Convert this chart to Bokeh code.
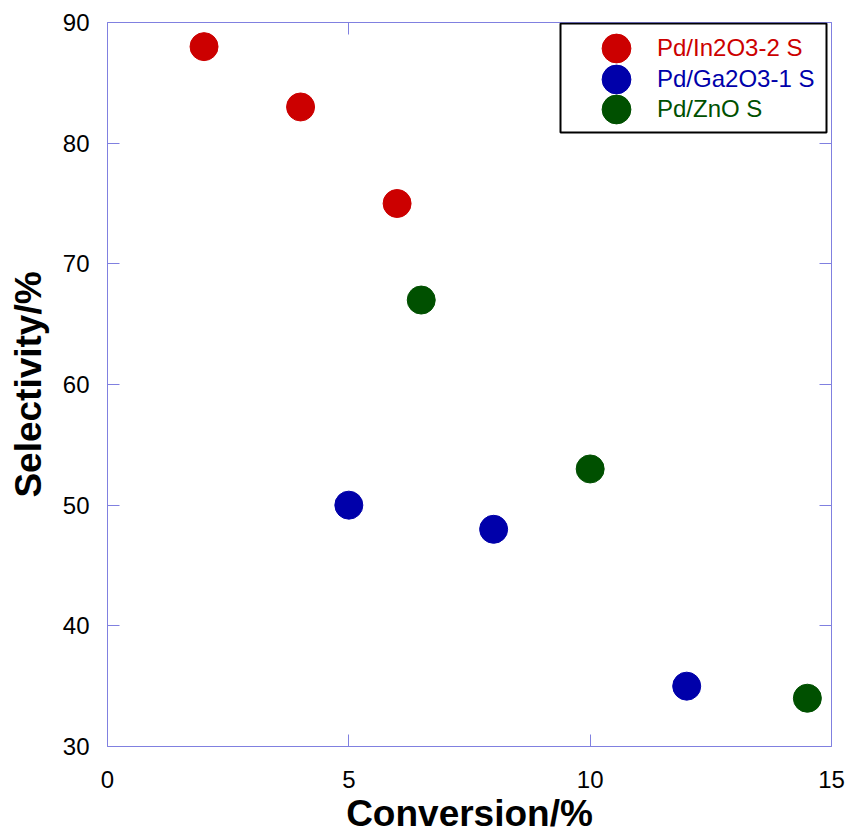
from bokeh.plotting import figure
from bokeh.models import (LinearAxis, FixedTicker, Legend, LegendItem, BoxAnnotation, Range1d)
from bokeh.embed import file_html
from bokeh.resources import INLINE

# Data
in2o3_conv = [2, 4, 6]
in2o3_sel = [88, 83, 75]
ga2o3_conv = [5, 8, 12]
ga2o3_sel = [50, 48, 35]
zno_conv = [6.5, 10, 14.5]
zno_sel = [67, 53, 34]
series_names = ["Pd/In2O3-2 S", "Pd/Ga2O3-1 S", "Pd/ZnO S"]
series_colors = ["#CC0000", "#0000AA", "#005000"]
x_ticks = [0, 5, 10, 15]
y_ticks = [30, 40, 50, 60, 70, 80, 90]
x_title = "Conversion/%"
y_title = "Selectivity/%"

FONT = "Liberation Sans"
AXC = "#8080E0"

p = figure(width=848, height=836, output_backend="svg", toolbar_location=None,
           x_range=Range1d(0, 15), y_range=Range1d(30, 90),
           min_border_left=107, min_border_right=17, min_border_top=22, min_border_bottom=90,
           x_axis_label=x_title, y_axis_label=y_title)
p.grid.visible = False
p.outline_line_color = None
p.background_fill_color = "white"
p.border_fill_color = "white"

bottom_ax = p.below[0]
left_ax = p.left[0]
right_ax = LinearAxis()
top_ax = LinearAxis()
p.add_layout(right_ax, "right")
p.add_layout(top_ax, "above")

for ax in (bottom_ax, top_ax):
    ax.ticker = FixedTicker(ticks=x_ticks)
for ax in (left_ax, right_ax):
    ax.ticker = FixedTicker(ticks=y_ticks)

for ax in (bottom_ax, top_ax, left_ax, right_ax):
    ax.axis_line_color = AXC
    ax.axis_line_width = 1
    ax.major_tick_line_color = AXC
    ax.major_tick_in = 12
    ax.major_tick_out = 0
    ax.minor_tick_line_color = None
    ax.major_label_text_font = FONT
    ax.major_label_text_font_size = "24px"
    ax.major_label_text_color = "black"
    ax.axis_label_text_font = FONT
    ax.axis_label_text_font_size = "37px"
    ax.axis_label_text_font_style = "bold"
    ax.axis_label_text_color = "black"

# mirrored axes: ticks only
for ax in (right_ax, top_ax):
    ax.major_label_text_font_size = "1px"
    ax.major_label_text_color = None
    ax.major_label_standoff = 0
    ax.axis_label = None

bottom_ax.major_label_standoff = 24
bottom_ax.axis_label_standoff = 2
left_ax.major_label_standoff = 18
left_ax.axis_label_standoff = 11

renderers = []
for xs, ys, c in [(in2o3_conv, in2o3_sel, series_colors[0]),
                  (ga2o3_conv, ga2o3_sel, series_colors[1]),
                  (zno_conv, zno_sel, series_colors[2])]:
    r = p.scatter(xs, ys, size=28, fill_color=c, line_color=c)
    renderers.append(r)

# legend frame
box = BoxAnnotation(left=560, right=826, top=23, bottom=132,
                    left_units="canvas", right_units="canvas",
                    top_units="canvas", bottom_units="canvas",
                    fill_color="white", fill_alpha=1.0,
                    line_color="black", line_alpha=1.0, line_width=2)
p.add_layout(box)

centers_from_top = [26, 56.5, 87]
for i, (name, col, r) in enumerate(zip(series_names, series_colors, renderers)):
    lg = Legend(items=[LegendItem(label=name, renderers=[r])],
                location=(473, 724 - centers_from_top[i] - 36),
                glyph_width=72, glyph_height=72, label_standoff=5,
                padding=0, margin=0, spacing=0,
                border_line_color=None, background_fill_alpha=0,
                label_text_font=FONT, label_text_font_size="24px",
                label_text_color=col, label_height=72)
    p.add_layout(lg)

open("out.html", "w").write(file_html(p, INLINE))
